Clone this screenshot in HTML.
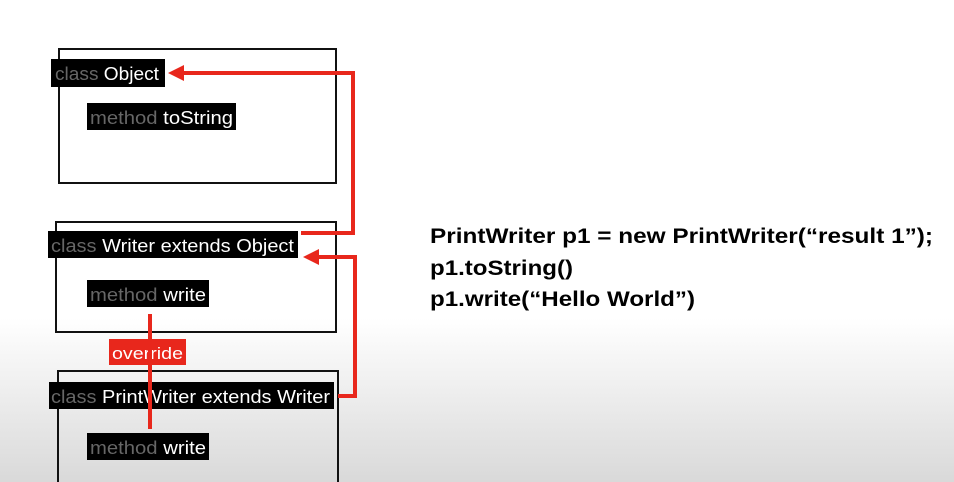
<!DOCTYPE html>
<html><head><meta charset="utf-8"><style>
html,body{margin:0;padding:0;width:954px;height:482px;overflow:hidden}
text{font-family:"Liberation Sans",Arial,sans-serif}
</style></head><body>
<svg width="954" height="482" xmlns="http://www.w3.org/2000/svg">
<defs><linearGradient id="g" x1="0" y1="0" x2="0" y2="1">
<stop offset="0" stop-color="#fff"/><stop offset="0.66" stop-color="#fff"/><stop offset="1" stop-color="#d9d9d9"/></linearGradient></defs>
<rect width="954" height="482" fill="url(#g)"/>
<rect x="59" y="49" width="277" height="134" fill="none" stroke="#111" stroke-width="2"/>
<rect x="56" y="222" width="280" height="110" fill="none" stroke="#111" stroke-width="2"/>
<rect x="58" y="371" width="280" height="120" fill="none" stroke="#111" stroke-width="2"/>
<!-- red connectors -->
<polyline points="301,233 353,233 353,73 180,73" fill="none" stroke="#e8271c" stroke-width="4"/>
<polygon points="168,73 184,65 184,81" fill="#e8271c"/>
<polyline points="338,396 355,396 355,257 316,257" fill="none" stroke="#e8271c" stroke-width="4"/>
<polygon points="303,257 319,249 319,265" fill="#e8271c"/>
<!-- labels -->
<rect x="51" y="59" width="114" height="28" fill="#000"/>
<text x="55" y="80" font-size="18" textLength="104" lengthAdjust="spacingAndGlyphs"><tspan fill="#666">class </tspan><tspan fill="#fff">Object</tspan></text>
<rect x="87" y="103" width="149" height="27" fill="#000"/>
<text x="90" y="124" font-size="18" textLength="143" lengthAdjust="spacingAndGlyphs"><tspan fill="#666">method </tspan><tspan fill="#fff">toString</tspan></text>
<rect x="48" y="231" width="250" height="27" fill="#000"/>
<text x="51" y="252" font-size="18" textLength="243" lengthAdjust="spacingAndGlyphs"><tspan fill="#666">class </tspan><tspan fill="#fff">Writer extends Object</tspan></text>
<rect x="87" y="280" width="122" height="27" fill="#000"/>
<text x="90" y="301" font-size="18" textLength="116" lengthAdjust="spacingAndGlyphs"><tspan fill="#666">method </tspan><tspan fill="#fff">write</tspan></text>
<rect x="49" y="382" width="285" height="27" fill="#000"/>
<text x="51" y="403" font-size="18" textLength="279" lengthAdjust="spacingAndGlyphs"><tspan fill="#666">class </tspan><tspan fill="#fff">PrintWriter extends Writer</tspan></text>
<rect x="87" y="433" width="122" height="27" fill="#000"/>
<text x="90" y="454" font-size="18" textLength="116" lengthAdjust="spacingAndGlyphs"><tspan fill="#666">method </tspan><tspan fill="#fff">write</tspan></text>
<!-- override -->
<rect x="109" y="339" width="77" height="26" fill="#e8271c"/>
<text x="112" y="359" font-size="17" fill="#fff" textLength="71" lengthAdjust="spacingAndGlyphs">override</text>
<line x1="150" y1="314" x2="150" y2="429" stroke="#e8271c" stroke-width="4"/>
<!-- code -->
<g font-size="21" font-weight="bold" fill="#000">
<text x="430" y="243" textLength="503" lengthAdjust="spacingAndGlyphs">PrintWriter p1 = new PrintWriter(“result 1”);</text>
<text x="430" y="275" textLength="143" lengthAdjust="spacingAndGlyphs">p1.toString()</text>
<text x="430" y="306" textLength="265" lengthAdjust="spacingAndGlyphs">p1.write(“Hello World”)</text>
</g>
</svg>
</body></html>
